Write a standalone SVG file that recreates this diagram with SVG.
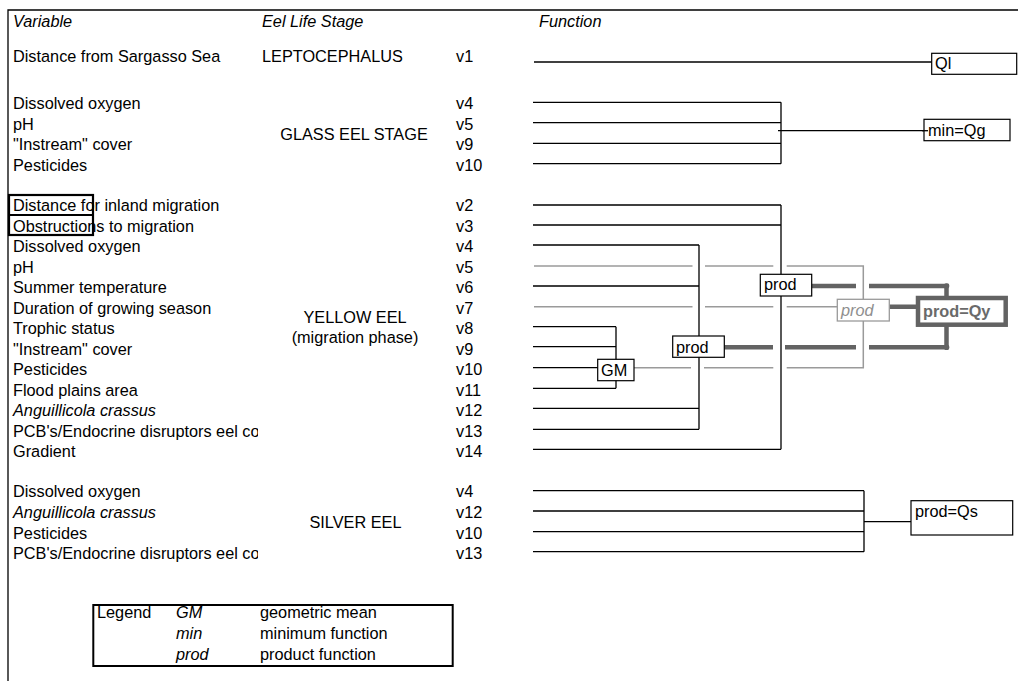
<svg xmlns="http://www.w3.org/2000/svg" width="1018" height="681" viewBox="0 0 1018 681">
<style>
text{font-family:"Liberation Sans",Arial,sans-serif;font-size:16.3px;fill:#000}
.it{font-style:italic}
.ln{stroke:#000;stroke-width:1.3;fill:none}
.gl{stroke:#9a9a9a;stroke-width:1.5;fill:none}
.tk{stroke:#636363;stroke-width:4.5;fill:none}
.box{fill:#fff;stroke:#000;stroke-width:1.2}
.frame{stroke:#000;stroke-width:1.3;fill:none}
</style>
<defs>
<clipPath id="colA"><rect x="0" y="0" width="258" height="681"/></clipPath>
</defs>
<rect x="0" y="0" width="1018" height="681" fill="#fff"/>
<g id="frame">
<polyline class="frame" points="8,681 8,10 1018,10"/>
<rect x="9" y="195" width="84" height="40" fill="none" stroke="#000" stroke-width="2.2"/>
<line x1="9" y1="215" x2="93" y2="215" stroke="#000" stroke-width="2.2"/>
</g>
<g id="headers">
<text class="it" x="13" y="27">Variable</text>
<text class="it" x="262" y="27">Eel Life Stage</text>
<text class="it" x="539" y="27">Function</text>
</g>
<g id="variables" clip-path="url(#colA)">
<text x="13" y="62">Distance from Sargasso Sea</text>
<text x="13" y="109">Dissolved oxygen</text>
<text x="13" y="129.5">pH</text>
<text x="13" y="150">"Instream" cover</text>
<text x="13" y="170.5">Pesticides</text>
<text x="13" y="211">Distance for inland migration</text>
<text x="13" y="231.5">Obstructions to migration</text>
<text x="13" y="252">Dissolved oxygen</text>
<text x="13" y="272.5">pH</text>
<text x="13" y="293">Summer temperature</text>
<text x="13" y="313.5">Duration of growing season</text>
<text x="13" y="334">Trophic status</text>
<text x="13" y="354.5">"Instream" cover</text>
<text x="13" y="375">Pesticides</text>
<text x="13" y="395.5">Flood plains area</text>
<text class="it" x="13" y="416">Anguillicola crassus</text>
<text x="13" y="436.5">PCB's/Endocrine disruptors eel co</text>
<text x="13" y="457">Gradient</text>
<text x="13" y="497.3">Dissolved oxygen</text>
<text class="it" x="13" y="518">Anguillicola crassus</text>
<text x="13" y="538.7">Pesticides</text>
<text x="13" y="559.3">PCB's/Endocrine disruptors eel co</text>
</g>
<g id="stages">
<text x="262" y="62">LEPTOCEPHALUS</text>
<text x="354" y="140" text-anchor="middle">GLASS EEL STAGE</text>
<text x="355" y="323" text-anchor="middle">YELLOW EEL</text>
<text x="355" y="343" text-anchor="middle">(migration phase)</text>
<text x="355.5" y="528" text-anchor="middle">SILVER EEL</text>
</g>
<g id="vlabels">
<text x="456" y="62">v1</text>
<text x="456" y="109">v4</text>
<text x="456" y="129.5">v5</text>
<text x="456" y="150">v9</text>
<text x="456" y="170.5">v10</text>
<text x="456" y="211">v2</text>
<text x="456" y="231.5">v3</text>
<text x="456" y="252">v4</text>
<text x="456" y="272.5">v5</text>
<text x="456" y="293">v6</text>
<text x="456" y="313.5">v7</text>
<text x="456" y="334">v8</text>
<text x="456" y="354.5">v9</text>
<text x="456" y="375">v10</text>
<text x="456" y="395.5">v11</text>
<text x="456" y="416">v12</text>
<text x="456" y="436.5">v13</text>
<text x="456" y="457">v14</text>
<text x="456" y="497.3">v4</text>
<text x="456" y="518">v12</text>
<text x="456" y="538.7">v10</text>
<text x="456" y="559.3">v13</text>
</g>
<g id="connectors">
<line class="ln" x1="534" y1="62" x2="932" y2="62"/>
<path class="ln" d="M533,102.3H781M533,122.7H781M533,143.3H781M533,163.7H781M781,102.3V163.7M778,130.7H927"/>
<path class="ln" d="M533,205H781M533,225H781M781,205V449.3M533,449.3H781"/>
<path class="ln" d="M533,245H699M533,286H699M533,408.3H699M533,429.3H699M699,245V429.3"/>
<path class="ln" d="M533,326.7H616M533,346.7H616M533,388.3H616M616,326.7V388.3M533,367.7H598"/>
<path class="gl" d="M534,266H692.5M705,266H773.3M786.7,266H863.3V367.7H786.7M773.3,367.7H704M691,367.7H634M534,306.7H692.5M705,306.7H773.3M786.7,306.7H838"/>
<path class="tk" d="M724,347.3H773M785,347.3H856M869,347.3H946.5V326M812,286H856M869,286H946.5V297M889,306.7H916"/>
<circle cx="946.5" cy="286" r="2.8" fill="#636363"/>
<circle cx="946.5" cy="347.3" r="2.8" fill="#636363"/>
<path class="ln" d="M533,490.7H864M533,511H864M533,531.7H864M533,551.7H864M864,490.7V551.7M864,521.7H911"/>
</g>
<g id="node-Ql">
<rect class="box" x="931.7" y="53.3" width="85" height="21"/>
<text x="935" y="68.5">Ql</text>
</g>
<g id="node-minQg">
<rect class="box" x="924" y="119.3" width="86" height="21.4"/>
<line class="ln" x1="922" y1="130.7" x2="928" y2="130.7"/>
<text x="928" y="135.5">min=Qg</text>
</g>
<g id="node-GM">
<rect class="box" x="597.7" y="359.3" width="36.3" height="21.4"/>
<text x="601" y="376">GM</text>
</g>
<g id="node-prod1">
<rect class="box" x="672.7" y="336" width="51.6" height="21.3"/>
<text x="676" y="352.5">prod</text>
</g>
<g id="node-prod2">
<rect class="box" x="760.3" y="274.3" width="51.4" height="21.7"/>
<text x="764" y="290">prod</text>
</g>
<g id="node-prod3">
<rect x="837.3" y="299.3" width="52" height="21.7" fill="#fff" stroke="#9a9a9a" stroke-width="1.3"/>
<text class="it" x="841" y="315.5" style="fill:#8f8f8f">prod</text>
</g>
<g id="node-prodQy">
<rect x="918" y="298" width="87.7" height="26.7" fill="#fff" stroke="#636363" stroke-width="4.5"/>
<text x="923" y="316.5" style="fill:#6a6a6a;font-weight:bold">prod=Qy</text>
</g>
<g id="node-prodQs">
<rect class="box" x="911" y="500.7" width="101.7" height="34.3"/>
<text x="915" y="516.5">prod=Qs</text>
</g>
<g id="legend">
<rect x="93.3" y="605" width="359.4" height="61" fill="#fff" stroke="#000" stroke-width="2"/>
<text x="97" y="618">Legend</text>
<text class="it" x="176" y="618">GM</text>
<text x="260" y="618">geometric mean</text>
<text class="it" x="176" y="639">min</text>
<text x="260" y="639">minimum function</text>
<text class="it" x="176" y="660">prod</text>
<text x="260" y="660">product function</text>
</g>
</svg>
